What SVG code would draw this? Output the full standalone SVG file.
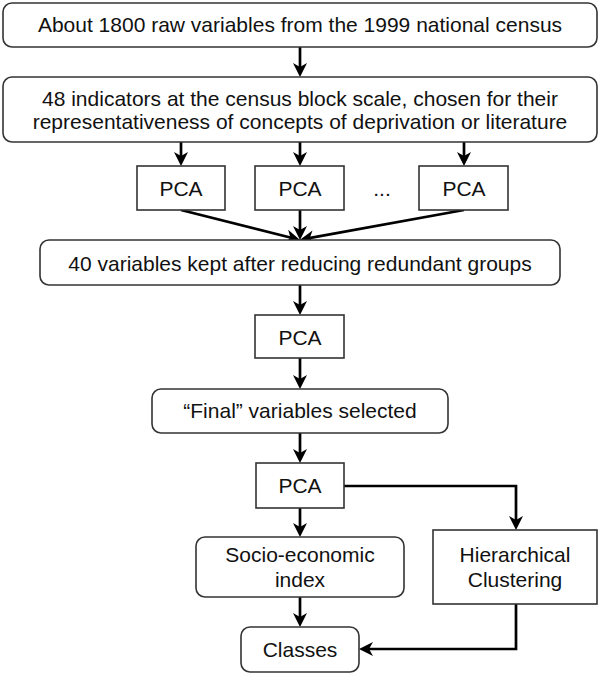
<svg xmlns="http://www.w3.org/2000/svg" width="600" height="674" viewBox="0 0 600 674">
<style>
.box{fill:#fff;stroke:#333;stroke-width:1.6}
.t{font-family:"Liberation Sans",Arial,sans-serif;font-size:21px;fill:#111;text-anchor:middle}
.c{fill:none;stroke:#000;stroke-width:2.7}
</style>
<defs>
<marker id="a" markerUnits="userSpaceOnUse" markerWidth="15" markerHeight="15" viewBox="0 0 15 15" refX="9" refY="7.5" orient="auto"><path d="M0,0.5 L14,7.5 L0,14.5 L4,7.5 z" fill="#000"/></marker>
</defs>
<rect width="600" height="674" fill="#fff"/>
<g id="connectors">
<path class="c" d="M300,47 V72" marker-end="url(#a)"/>
<path class="c" d="M181,142 V161" marker-end="url(#a)"/>
<path class="c" d="M300,142 V161" marker-end="url(#a)"/>
<path class="c" d="M464,142 V161" marker-end="url(#a)"/>
<path class="c" d="M181,210 L295.2,238.8" marker-end="url(#a)"/>
<path class="c" d="M300,210 V235" marker-end="url(#a)"/>
<path class="c" d="M464,210 L304.9,238.9" marker-end="url(#a)"/>
<path class="c" d="M300,285 V310" marker-end="url(#a)"/>
<path class="c" d="M300,358 V384" marker-end="url(#a)"/>
<path class="c" d="M300,433 V458" marker-end="url(#a)"/>
<path class="c" d="M300,508 V532" marker-end="url(#a)"/>
<path class="c" d="M300,597 V622" marker-end="url(#a)"/>
<path class="c" d="M344,486 H516 V525" marker-end="url(#a)"/>
<path class="c" d="M516,604 V649 H364" marker-end="url(#a)"/>
</g>
<g id="n1"><rect class="box" x="3" y="3" width="594" height="44" rx="9"/><text class="t" x="300" y="32">About 1800 raw variables from the 1999 national census</text></g>
<g id="n2"><rect class="box" x="3" y="77" width="594" height="65" rx="9"/><text class="t" x="300" y="106">48 indicators at the census block scale, chosen for their</text><text class="t" x="300" y="129">representativeness of concepts of deprivation or literature</text></g>
<g id="pca1"><rect class="box" x="137" y="166" width="88" height="44"/><text class="t" x="181" y="196">PCA</text></g>
<g id="pca2"><rect class="box" x="255" y="166" width="89" height="44"/><text class="t" x="300" y="196">PCA</text></g>
<g id="dots"><text class="t" x="382" y="196">...</text></g>
<g id="pca3"><rect class="box" x="419" y="166" width="89" height="44"/><text class="t" x="464" y="196">PCA</text></g>
<g id="n3"><rect class="box" x="40" y="240" width="520" height="45" rx="9"/><text class="t" x="300" y="271">40 variables kept after reducing redundant groups</text></g>
<g id="pca4"><rect class="box" x="255" y="315" width="89" height="43"/><text class="t" x="300" y="345">PCA</text></g>
<g id="n4"><rect class="box" x="152" y="389" width="296" height="44" rx="9"/><text class="t" x="300" y="418">“Final” variables selected</text></g>
<g id="pca5"><rect class="box" x="256" y="463" width="88" height="45"/><text class="t" x="300" y="493">PCA</text></g>
<g id="n5"><rect class="box" x="196" y="537" width="208" height="60" rx="9"/><text class="t" x="300" y="562">Socio-economic</text><text class="t" x="300" y="587">index</text></g>
<g id="n6"><rect class="box" x="433" y="530" width="164" height="74"/><text class="t" x="515" y="562">Hierarchical</text><text class="t" x="515" y="587">Clustering</text></g>
<g id="n7"><rect class="box" x="241" y="627" width="118" height="45" rx="9"/><text class="t" x="300" y="657">Classes</text></g>
</svg>
